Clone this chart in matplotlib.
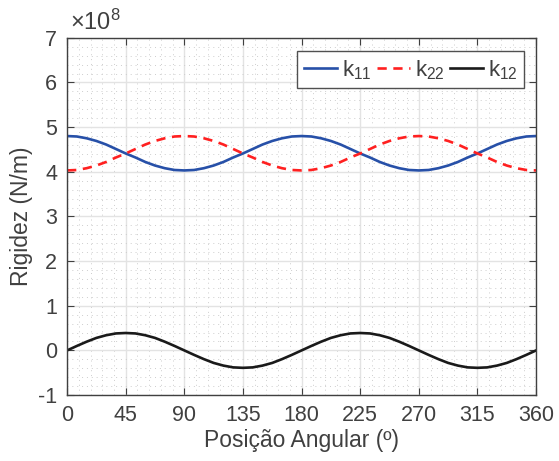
import numpy as np
import matplotlib
matplotlib.use("Agg")
import matplotlib.pyplot as plt
from matplotlib.ticker import MultipleLocator, FuncFormatter

plt.rcParams['font.family'] = ['Liberation Sans', 'DejaVu Sans']
plt.rcParams['mathtext.fontset'] = 'custom'
plt.rcParams['mathtext.rm'] = 'Liberation Sans'
plt.rcParams['axes.unicode_minus'] = False

# angular position (deg), step 7.5
theta = [0, 7.5, 15, 22.5, 30, 37.5, 45, 52.5, 60, 67.5, 75, 82.5,
         90, 97.5, 105, 112.5, 120, 127.5, 135, 142.5, 150, 157.5, 165, 172.5,
         180, 187.5, 195, 202.5, 210, 217.5, 225, 232.5, 240, 247.5, 255, 262.5,
         270, 277.5, 285, 292.5, 300, 307.5, 315, 322.5, 330, 337.5, 345, 352.5,
         360]

# stiffness values, in units of 1e8 N/m
k11 = [4.80, 4.79, 4.75, 4.69, 4.61, 4.51, 4.41, 4.32, 4.22, 4.14, 4.08, 4.04,
       4.03, 4.04, 4.08, 4.14, 4.22, 4.32, 4.41, 4.51, 4.61, 4.69, 4.75, 4.79,
       4.80, 4.79, 4.75, 4.69, 4.61, 4.51, 4.41, 4.32, 4.22, 4.14, 4.08, 4.04,
       4.03, 4.04, 4.08, 4.14, 4.22, 4.32, 4.41, 4.51, 4.61, 4.69, 4.75, 4.79,
       4.80]
k22 = [4.03, 4.04, 4.08, 4.14, 4.22, 4.32, 4.41, 4.51, 4.61, 4.69, 4.75, 4.79,
       4.80, 4.79, 4.75, 4.69, 4.61, 4.51, 4.41, 4.32, 4.22, 4.14, 4.08, 4.04,
       4.03, 4.04, 4.08, 4.14, 4.22, 4.32, 4.41, 4.51, 4.61, 4.69, 4.75, 4.79,
       4.80, 4.79, 4.75, 4.69, 4.61, 4.51, 4.41, 4.32, 4.22, 4.14, 4.08, 4.04,
       4.03]
k12 = [0.00, 0.10, 0.195, 0.28, 0.34, 0.38, 0.39, 0.38, 0.34, 0.28, 0.195, 0.10,
       0.00, -0.10, -0.195, -0.28, -0.34, -0.38, -0.39, -0.38, -0.34, -0.28, -0.195, -0.10,
       0.00, 0.10, 0.195, 0.28, 0.34, 0.38, 0.39, 0.38, 0.34, 0.28, 0.195, 0.10,
       0.00, -0.10, -0.195, -0.28, -0.34, -0.38, -0.39, -0.38, -0.34, -0.28, -0.195, -0.10,
       0.00]
scale = 1e8

text_col = '#404040'

fig = plt.figure(figsize=(5.59, 4.61), dpi=100)
ax = fig.add_axes([0.12, 0.143, 0.839, 0.775])

ax.plot(theta, np.array(k11) * scale, color='#2750a8', lw=1.9, label=r'$\mathregular{k_{11}}$')
ax.plot(theta, np.array(k22) * scale, color='#ff2020', lw=1.9, ls=(0, (3.5, 2.5)),
        label=r'$\mathregular{k_{22}}$')
ax.plot(theta, np.array(k12) * scale, color='#1a1a1a', lw=1.9, label=r'$\mathregular{k_{12}}$')

ax.set_xlim(0, 360)
ax.set_ylim(-1e8, 7e8)
ax.xaxis.set_major_locator(MultipleLocator(45))
ax.xaxis.set_minor_locator(MultipleLocator(9))
ax.yaxis.set_major_locator(MultipleLocator(1e8))
ax.yaxis.set_minor_locator(MultipleLocator(0.2e8))
ax.yaxis.set_major_formatter(FuncFormatter(lambda v, p: f'{v / scale:g}'))
ax.text(0.006, 1.008, r'$\times\mathregular{10^{8}}$', transform=ax.transAxes,
        fontsize=17, color=text_col, ha='left', va='bottom')

ax.grid(True, which='major', color='#e3e3e3', lw=1.0)
ax.grid(True, which='minor', color='#cdcdcd', lw=0.7, ls=(0, (1, 4)))
ax.set_axisbelow(True)

ax.tick_params(which='both', direction='in', top=True, right=True,
               labelsize=15.5, colors=text_col)
ax.tick_params(which='major', length=5)
ax.tick_params(which='minor', length=0)
ax.tick_params(axis='x', which='major', pad=7)
ax.tick_params(axis='y', which='major', pad=7)
for s in ax.spines.values():
    s.set_color('#404040')
    s.set_linewidth(1.0)

ax.set_xlabel('Posição Angular (º)', fontsize=16.5, color=text_col, labelpad=2)
ax.set_ylabel('Rigidez (N/m)', fontsize=16.5, color=text_col, labelpad=4)

leg = ax.legend(loc='upper right', ncol=3, fontsize=16, handlelength=1.5,
                handletextpad=0.2, columnspacing=0.25, fancybox=False,
                framealpha=1, edgecolor='#505050', borderpad=0.3,
                borderaxespad=0.0, bbox_to_anchor=(0.975, 0.962))
leg.get_frame().set_linewidth(1.0)
for t in leg.get_texts():
    t.set_color(text_col)

fig.savefig('out.png', dpi=100)
